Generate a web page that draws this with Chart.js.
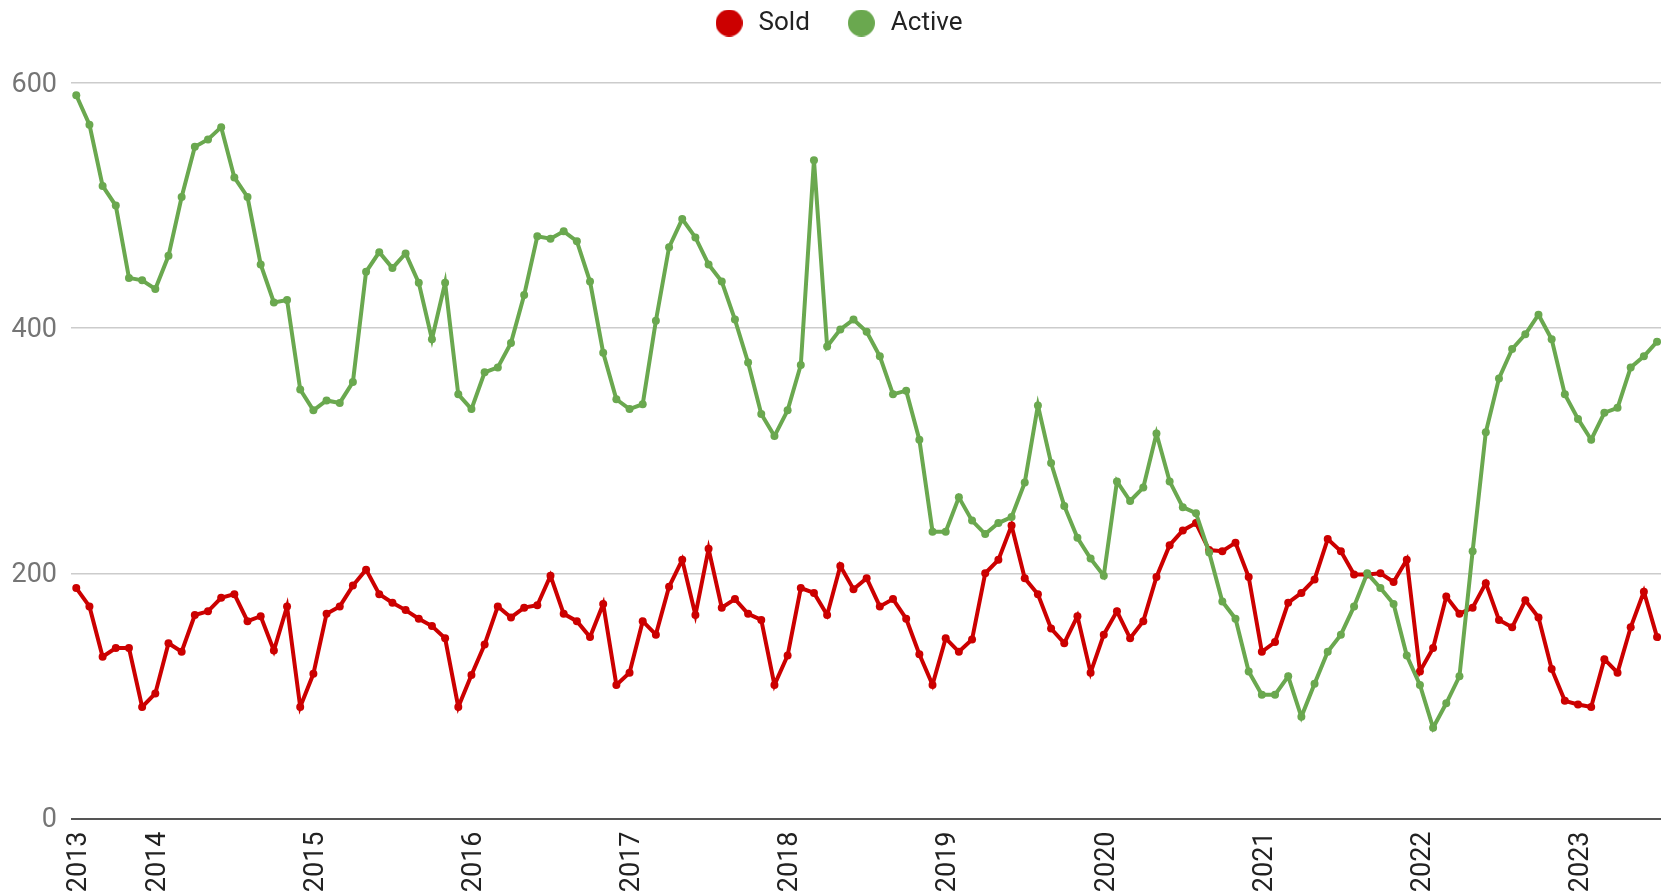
<!DOCTYPE html>
<html>
<head>
<meta charset="utf-8">
<script src="https://cdn.jsdelivr.net/npm/chart.js@4/dist/chart.umd.min.js"></script>
<style>
html,body{margin:0;padding:0;background:#fff;overflow:hidden;}
canvas{display:block;}
</style>
</head>
<body>
<canvas id="c" width="1665" height="896"></canvas>
<script>
// ---- data (monthly, Jul 2013 .. Jul 2023) ----
const START_YEAR = 2013;
const START_MONTH = 7;
const YEARS = ['2013','2014','2015','2016','2017','2018','2019','2020','2021','2022','2023'];
const SERIES_NAMES = ['Sold', 'Active'];
const SOLD_COLOR = '#cc0000';
const ACTIVE_COLOR = '#6aa84f';

const sold = [
188,173,132,139,139,91,102,143,136,166,169,180,183,161,165,137,173,91,118,167,
173,190,203,183,176,170,163,157,147,91,117,142,173,164,172,174,198,167,161,148,
175,109,119,161,150,189,211,166,220,172,179,167,162,109,133,188,184,166,206,187,
196,173,179,163,134,109,147,136,146,200,211,239,196,183,155,143,165,119,150,169,
147,161,197,223,235,241,219,218,225,197,136,144,176,184,195,228,218,199,199,200,
193,211,120,139,181,167,172,192,162,156,178,164,122,96,93,91,130,119,156,185,
148
];
const active = [
590,566,516,500,441,439,432,459,507,548,554,564,523,507,452,421,423,350,333,341,
339,356,446,462,449,461,437,391,437,346,334,364,368,388,427,475,473,479,471,438,
380,342,334,338,406,466,489,474,452,438,407,372,330,312,333,370,537,385,399,407,
397,377,346,349,309,234,234,262,243,232,241,246,274,337,290,255,229,212,198,275,
259,270,314,275,254,249,217,177,163,120,101,101,116,83,110,136,150,173,200,188,
175,133,109,74,94,116,218,315,359,383,395,411,391,346,326,309,331,335,368,377,
389
];

// month categories
const months = sold.map((_, i) => {
  const m = START_MONTH - 1 + i;
  return (START_YEAR + Math.floor(m / 12)) + '-' + String(m % 12 + 1).padStart(2, '0');
});
// first month index of each labelled year
const yearTicks = YEARS.map(y => months.findIndex(m => m.startsWith(y)));

function dot(color, d) {
  const c = document.createElement('canvas');
  c.width = d; c.height = d;
  const g = c.getContext('2d');
  g.fillStyle = color;
  g.beginPath();
  g.arc(d / 2, d / 2, d / 2, 0, Math.PI * 2);
  g.fill();
  return c;
}
const legendDots = [dot(SOLD_COLOR, 27), dot(ACTIVE_COLOR, 27)];

function shiftLabels(scale, dx, dy) {
  if (!scale || scale._shifted) return;
  const orig = scale.drawLabels.bind(scale);
  scale.drawLabels = function (area) {
    const ctx = this.ctx;
    ctx.save();
    ctx.translate(dx, dy);
    orig(area);
    ctx.restore();
  };
  scale._shifted = true;
}

const LEGEND_PAD = 35;
const chartTweak = {
  id: 'chartTweak',
  beforeInit(chart) {
    const lg = chart.legend;
    if (!lg) return;
    const orig = lg.fit;
    lg.fit = function () { orig.call(this); this.height += 12; };
  },
  afterLayout(chart) {
    const lg = chart.legend;
    if (lg) {
      lg.top -= (LEGEND_PAD - 10);
      lg.left += 5;
      lg.right += 5;
    }
    shiftLabels(chart.scales.y, 0, 2);
    shiftLabels(chart.scales.x, 3, 0);
  }
};

Chart.defaults.font.family = 'Roboto';

new Chart(document.getElementById('c'), {
  type: 'line',
  data: {
    datasets: [
      {
        label: SERIES_NAMES[0],
        data: sold.map((v, i) => ({ x: i, y: v })),
        borderColor: SOLD_COLOR,
        backgroundColor: SOLD_COLOR,
        pointBackgroundColor: SOLD_COLOR,
        borderWidth: 4,
        pointRadius: 4,
        pointBorderWidth: 0,
        tension: 0,
        order: 1
      },
      {
        label: SERIES_NAMES[1],
        data: active.map((v, i) => ({ x: i, y: v })),
        borderColor: ACTIVE_COLOR,
        backgroundColor: ACTIVE_COLOR,
        pointBackgroundColor: ACTIVE_COLOR,
        borderWidth: 4,
        pointRadius: 4,
        pointBorderWidth: 0,
        tension: 0,
        order: 0
      }
    ]
  },
  options: {
    responsive: false,
    animation: false,
    devicePixelRatio: 1,
    layout: { padding: 0 },
    plugins: {
      tooltip: { enabled: false },
      legend: {
        position: 'top',
        reverse: true,
        labels: {
          usePointStyle: true,
          pointStyleWidth: 33,
          padding: LEGEND_PAD,
          color: '#222222',
          font: { family: 'Roboto', size: 26 },
          generateLabels(chart) {
            const items = Chart.defaults.plugins.legend.labels.generateLabels(chart);
            items.forEach(it => { it.pointStyle = legendDots[it.datasetIndex]; });
            return items;
          }
        }
      }
    },
    scales: {
      x: {
        type: 'linear',
        min: -0.4,
        max: 120.3,
        grid: { display: false, drawTicks: false },
        border: { display: false },
        afterBuildTicks(s) { s.ticks = yearTicks.map(v => ({ value: v })); },
        afterFit(s) { s.height = 77.5; s.paddingLeft = 0; s.paddingRight = 0; },
        ticks: {
          autoSkip: false,
          minRotation: 90,
          maxRotation: 90,
          padding: 13,
          color: '#222222',
          font: { family: 'Roboto', size: 27 },
          callback: (v) => months[v] ? months[v].slice(0, 4) : ''
        }
      },
      y: {
        min: 0,
        max: 600,
        afterFit(s) { s.width = 71; },
        grid: {
          drawTicks: false,
          color: (ctx) => ctx.tick && ctx.tick.value === 0 ? '#555555' : '#cccccc',
          lineWidth: (ctx) => ctx.tick && ctx.tick.value === 0 ? 2 : 1.5
        },
        border: { display: false },
        ticks: {
          stepSize: 200,
          padding: 14,
          color: '#757575',
          font: { family: 'Roboto', size: 27 }
        }
      }
    }
  },
  plugins: [chartTweak]
});
</script>
</body>
</html>
